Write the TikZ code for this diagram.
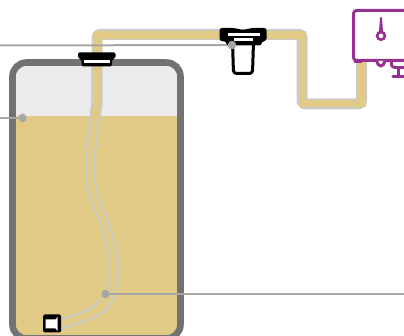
\documentclass[tikz,border=0pt]{standalone}
\definecolor{liquid}{HTML}{E0CA85}
\definecolor{tankgray}{HTML}{727272}
\definecolor{airgray}{HTML}{EBEBEB}
\definecolor{tubegray}{HTML}{CCCCC6}
\definecolor{leadgray}{HTML}{A6A6A6}
\definecolor{ctrl}{HTML}{97318F}
\tikzset{
  leader/.style={draw=leadgray,line width=2pt},
  leaddot/.style={circle,fill=leadgray,inner sep=0pt,minimum size=8.5pt},
  ctrlline/.style={draw=ctrl,line width=3pt,line join=round},
}
\begin{document}
\begin{tikzpicture}[x=1pt,y=-1pt]
\useasboundingbox (0,0) rectangle (404,336);
\clip (0,0) rectangle (404,336);
% tank
\fill[airgray,rounded corners=14pt] (12.5,62.5) rectangle (180.5,338.5);
\begin{scope}
\clip[rounded corners=14pt] (12.5,62.5) rectangle (180.5,338.5);
\fill[liquid] (12,116) rectangle (181,340);
\end{scope}
\draw[tankgray,line width=6.6pt,rounded corners=14pt] (12.5,62.5) rectangle (180.5,338.5);
% pipe
\draw[tubegray,line width=2.6pt] (92.4,60) -- (92.4,103);
\draw[tubegray,line width=11pt,rounded corners=3pt,line join=round]
  (97,58) -- (97,34.3) -- (302,34.3) -- (302,104) -- (361.5,104) -- (361.5,58);
\draw[liquid,line width=7.2pt]
  (97.8,106) -- (97.8,35) -- (302.5,35) -- (302.5,103.5) -- (362,103.5) -- (362,58);
% submerged tube
\fill[liquid] (92,104) .. controls (91,125) and (86,150) .. (86,170) -- (94.3,170) .. controls (95,150) and (100,125) .. (101,104) -- cycle;
\draw[tubegray,line width=2pt] (92,60) -- (92,103) .. controls (90,125) and (85.5,150) .. (86,170)
  .. controls (86,190) and (93,205) .. (100,222) .. controls (105,235) and (109,252) .. (109,268)
  .. controls (109,282) and (107,292) .. (103,297) .. controls (95,310) and (75,315) .. (60,320);
\draw[tubegray,line width=2pt] (101.5,60) -- (101.5,104) .. controls (99,125) and (94,150) .. (94.3,170)
  .. controls (94.5,190) and (102,205) .. (108,222) .. controls (114,238) and (118.5,255) .. (118.5,270)
  .. controls (118.5,285) and (114,300) .. (108,307) .. controls (98,320) and (75,323) .. (60,329.5);
% leaders
\node[leaddot] (d1) at (232,45) {};
\node[leaddot] (d2) at (22.5,118) {};
\node[leaddot] (d3) at (105.5,294) {};
\coordinate (l1) at (0,45.5);
\coordinate (l2) at (0,118);
\coordinate (l3) at (404,294);
\draw[leader] (l1) -- (d1);
\draw[leader] (l2) -- (d2);
\draw[leader] (d3) -- (l3);
% cap
\fill[black,rounded corners=1.5pt] (78,52.5) -- (115.5,52.5) -- (115.5,58) -- (112,59.5) -- (112,66.5) -- (81.5,66.5) -- (81.5,59.5) -- (78,58) -- cycle;
\fill[white] (84,60.2) rectangle (109.5,62.8);
% filter bowl
\draw[black,line width=3pt,fill=white,rounded corners=3pt,line join=round] (232.5,42) -- (233.5,73.5) -- (252.5,73.5) -- (253.5,42);
% filter head
\fill[black,rounded corners=2.5pt] (219.5,28) -- (234,28) -- (243,30) -- (252,28) -- (266.5,28) -- (266.5,41) -- (261.5,41.5) -- (261.5,45.5) -- (226.5,45.5) -- (226.5,41.5) -- (219.5,41) -- cycle;
\fill[white] (228,33) rectangle (260,36);
\fill[white] (233.5,38.2) rectangle (253,41.5);
\node[leaddot] (d1b) at (232,45) {};
% pump
\fill[black,rounded corners=1.5pt] (43,314.5) rectangle (61,332.5);
\fill[white] (45.5,319.5) -- (55.5,319.5) -- (57.5,317) -- (57.5,331) -- (55.5,328.5) -- (45.5,328.5) -- cycle;
% controller
\fill[white] (353.5,10) rectangle (410,61);
\draw[ctrlline,rounded corners=3pt] (410,10.5) -- (353.5,10.5) -- (353.5,60.5) -- (410,60.5);
\draw[ctrl,line width=4pt] (354,61.5) -- (362,61.5);
\fill[ctrl] (380,17.5) -- (382,17.5) -- (383,32) -- (379,32) -- cycle;
\draw[ctrl,line width=2.6pt,fill=white] (381,35.8) circle (3.9pt);
\draw[ctrlline,fill=white] (376.8,61) .. controls (377,64) and (379,66) .. (380.8,66) .. controls (382.6,66) and (384.6,64) .. (384.8,61);
\draw[ctrlline,line width=2.8pt] (391.5,61) -- (391.5,65) .. controls (391.5,67) and (393,67.5) .. (397.5,67.5) -- (410,67.5);
\draw[ctrl,line width=3pt] (398.3,67.5) -- (398.3,76);
\draw[ctrl,line width=3.4pt,line cap=round] (393,76.3) -- (410,76.3);
\end{tikzpicture}
\end{document}
